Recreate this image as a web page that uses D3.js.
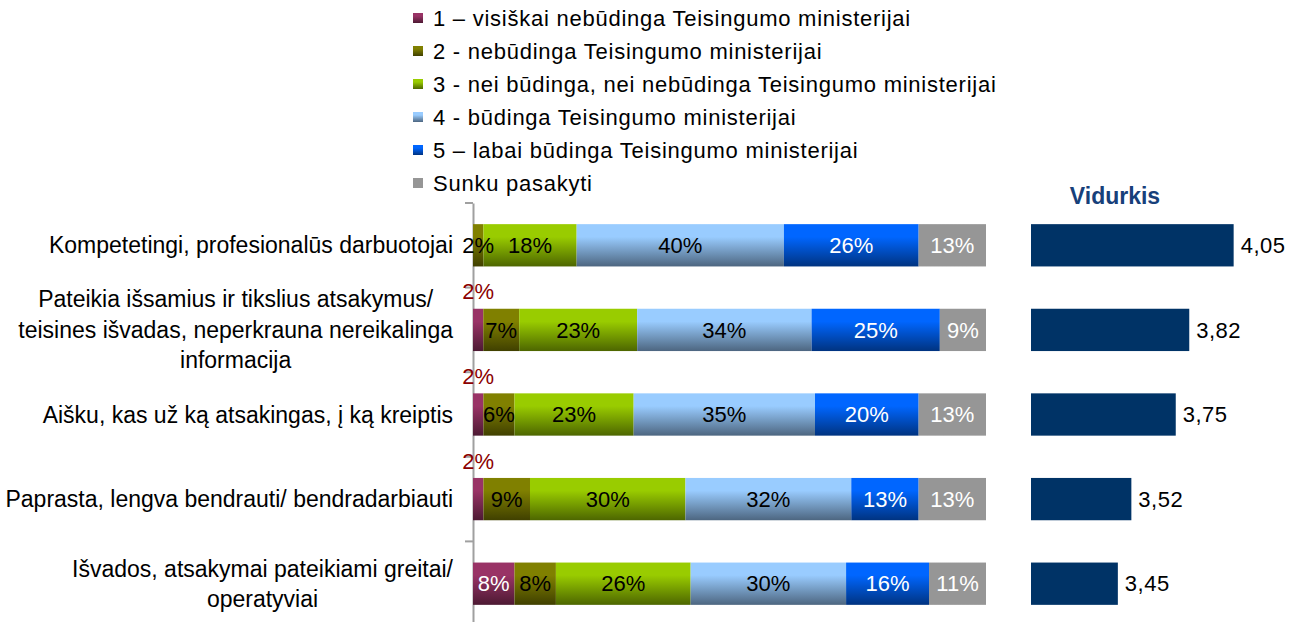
<!DOCTYPE html>
<html>
<head>
<meta charset="utf-8">
<script src="https://cdn.jsdelivr.net/npm/d3@7"></script>
<style>
  body { margin: 0; background: #fff; }
  svg { font-family: "Liberation Sans", Arial, sans-serif; }
</style>
</head>
<body>
<div id="graf"></div>
<script>
// Datos
categorias = [
  'Kompetetingi, profesionalūs darbuotojai',
  'Pateikia išsamius ir tikslius atsakymus/\nteisines išvadas, neperkrauna nereikalinga\ninformacija',
  'Aišku, kas už ką atsakingas, į ką kreiptis',
  'Paprasta, lengva bendrauti/ bendradarbiauti',
  'Išvados, atsakymai pateikiami greitai/\noperatyviai'
]
serie1 = [0, 2, 2, 2, 8]
serie2 = [2, 7, 6, 9, 8]
serie3 = [18, 23, 23, 30, 26]
serie4 = [40, 34, 35, 32, 30]
serie5 = [26, 25, 20, 13, 16]
sunku  = [13, 9, 13, 13, 11]
vidurkis = [4.05, 3.82, 3.75, 3.52, 3.45]
leyenda = [
  '1 – visiškai nebūdinga Teisingumo ministerijai',
  '2 - nebūdinga Teisingumo ministerijai',
  '3 - nei būdinga, nei nebūdinga Teisingumo ministerijai',
  '4 - būdinga Teisingumo ministerijai',
  '5 – labai būdinga Teisingumo ministerijai',
  'Sunku pasakyti'
]
tituloVidurkis = 'Vidurkis'

claves = ['s1', 's2', 's3', 's4', 's5', 's6']
series = [serie1, serie2, serie3, serie4, serie5, sunku]
tabla = categorias.map((c, i) => {
  let fila = { cat: c }
  claves.forEach((k, j) => fila[k] = series[j][i])
  return fila
})

// colores: arriba / abajo del degradado
colTop = ['#993366', '#808000', '#99cc00', '#99ccff', '#0066ff', '#969696']
colBot = ['#4d1a33', '#404000', '#4d6600', '#4d6680', '#003380', '#969696']
colTxt = ['#ffffff', '#000000', '#000000', '#000000', '#ffffff', '#ffffff']

ancho_total = 1298
alto_total = 622

svg = d3.select('#graf').append('svg')
        .attr('width', ancho_total)
        .attr('height', alto_total)

defs = svg.append('defs')
claves.forEach((k, j) => {
  let gr = defs.append('linearGradient')
        .attr('id', 'grad-' + k)
        .attr('x1', 0).attr('y1', 0).attr('x2', 0).attr('y2', 1)
  gr.append('stop').attr('offset', '0%').attr('stop-color', colTop[j])
  gr.append('stop').attr('offset', '30%').attr('stop-color', colTop[j])
  gr.append('stop').attr('offset', '100%').attr('stop-color', colBot[j])
})

// Escaladores
x = d3.scaleLinear().domain([0, 1]).range([473, 986])
y = d3.scaleBand()
      .domain(categorias)
      .range([203, 626])
      .paddingInner(0.5)
      .paddingOuter(0.25)
xm = d3.scaleLinear().domain([3, 5]).range([1031, 1031 + 386])

stack = d3.stack().keys(claves).offset(d3.stackOffsetExpand)
capas = stack(tabla)

// Eje vertical
yAxis = svg.append('g')
      .attr('transform', 'translate(473, 0)')
      .call(d3.axisLeft(y).tickSize(0).tickFormat(''))
yAxis.select('.domain').attr('stroke', '#a0a0a0').attr('stroke-width', 2)
ticks = y.domain().map(c => y(c) - y.step() * y.paddingInner() / 2)
svg.append('g').selectAll('line')
    .data(ticks)
    .join('line')
    .attr('x1', 465).attr('x2', 473)
    .attr('y1', d => d).attr('y2', d => d)
    .attr('stroke', '#a0a0a0').attr('stroke-width', 2)

// Barras apiladas
grupos = svg.append('g').selectAll('g')
    .data(capas)
    .join('g')
    .attr('fill', d => `url(#grad-${d.key})`)

grupos.selectAll('rect')
    .data(d => d)
    .join('rect')
    .attr('x', d => x(d[0]))
    .attr('y', d => y(d.data.cat))
    .attr('width', d => x(d[1]) - x(d[0]))
    .attr('height', y.bandwidth())

// Etiquetas de porcentaje
capas.forEach((capa, j) => {
  capa.forEach(d => {
    let v = d.data[capa.key]
    if (v <= 0) return
    let cx = (x(d[0]) + x(d[1])) / 2
    let fuera = j == 0 && v < 5
    svg.append('text')
      .attr('x', cx)
      .attr('y', fuera ? y(d.data.cat) - 17 : y(d.data.cat) + y.bandwidth() / 2)
      .attr('dy', '0.35em')
      .attr('text-anchor', 'middle')
      .attr('font-size', 22)
      .attr('fill', fuera ? '#8b0000' : colTxt[j])
      .text(v + '%')
  })
})

// Etiquetas de categoría
categorias.forEach(c => {
  let lineas = c.split('\n')
  let t = svg.append('text')
      .attr('font-size', 23)
      .attr('fill', '#000')
      .attr('text-anchor', 'middle')
  let alto_linea = 30.5
  let y0 = y(c) + y.bandwidth() / 2 - (lineas.length - 1) * alto_linea / 2
  let spans = lineas.map((l, i) => t.append('tspan')
      .attr('y', y0 + i * alto_linea)
      .attr('dy', '0.35em')
      .text(l))
  let maxW = d3.max(spans, s => s.node().getComputedTextLength())
  spans.forEach(s => s.attr('x', 453 - maxW / 2))
})

// Vidurkis
svg.append('text')
    .attr('x', 1115)
    .attr('y', 196)
    .attr('dy', '0.35em')
    .attr('text-anchor', 'middle')
    .attr('font-size', 23)
    .attr('font-weight', 'bold')
    .attr('fill', '#17407a')
    .text(tituloVidurkis)

fmt = d3.formatLocale({ decimal: ',', thousands: ' ', grouping: [3], currency: ['', ''] }).format('.2f')

svg.append('g').selectAll('rect')
    .data(vidurkis)
    .join('rect')
    .attr('x', xm(3))
    .attr('y', (d, i) => y(categorias[i]))
    .attr('width', d => xm(d) - xm(3))
    .attr('height', y.bandwidth())
    .attr('fill', '#003366')

svg.append('g').selectAll('text')
    .data(vidurkis)
    .join('text')
    .attr('x', d => xm(d) + 7)
    .attr('y', (d, i) => y(categorias[i]) + y.bandwidth() / 2)
    .attr('dy', '0.35em')
    .attr('font-size', 22)
    .attr('letter-spacing', 0.5)
    .attr('fill', '#000')
    .text(d => fmt(d))

// Leyenda
ley = svg.append('g').selectAll('g')
    .data(leyenda)
    .join('g')
    .attr('transform', (d, i) => `translate(413, ${18 + i * 33})`)
ley.append('rect')
    .attr('x', 0).attr('y', -5)
    .attr('width', 10).attr('height', 10)
    .attr('fill', (d, i) => `url(#grad-${claves[i]})`)
ley.append('text')
    .attr('x', 20)
    .attr('dy', '0.35em')
    .attr('font-size', 22)
    .attr('letter-spacing', 0.75)
    .attr('fill', '#000')
    .text(d => d)
</script>
</body>
</html>
